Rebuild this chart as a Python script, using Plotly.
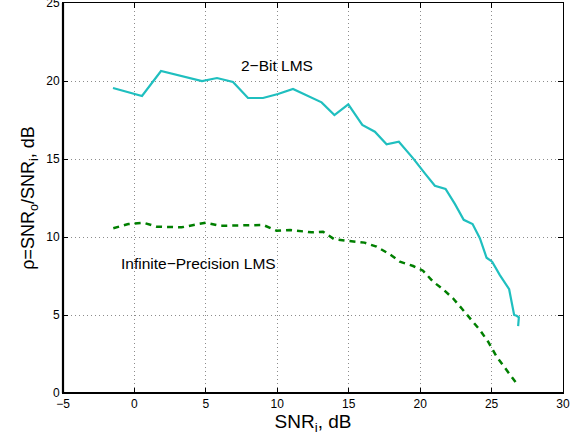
import plotly.graph_objects as go

# 2-Bit LMS curve
bit2_x = [-1.5, 0.53, 1.86, 3.33, 4.73, 5.78, 6.9, 7.95, 9.0, 10.05, 11.1, 13.1, 14.0, 14.97,
          15.95, 16.83, 17.65, 18.51, 19.51, 20.33, 21.03, 21.78, 22.43, 23.05, 23.67, 24.18,
          24.65, 25.04, 25.58, 26.23, 26.44, 26.58, 26.75, 26.91, 26.86]
bit2_y = [19.55, 19.04, 20.64, 20.32, 20.0, 20.19, 19.94, 18.91, 18.91, 19.17, 19.49, 18.63, 17.82, 18.5,
          17.18, 16.75, 15.94, 16.11, 15.04, 14.08, 13.29, 13.08, 12.12, 11.1, 10.83, 9.92,
          8.67, 8.42, 7.56, 6.65, 5.79, 5.0, 4.95, 4.85, 4.29]

# Infinite-Precision LMS curve
inf_x = [-1.48, -0.43, 0.62, 1.56, 3.3, 4.99, 6.0, 9.02, 9.95, 10.9, 12.4, 13.2, 14.0, 14.97,
         16.1, 16.95, 17.88, 18.58, 19.51, 20.2, 20.9, 21.6, 22.3, 22.9, 23.6, 24.18, 24.76,
         25.35, 26.05, 26.8]
inf_y = [10.56, 10.83, 10.92, 10.66, 10.62, 10.92, 10.72, 10.77, 10.4, 10.45, 10.3, 10.34, 9.85, 9.76,
         9.64, 9.38, 8.89, 8.42, 8.14, 7.84, 7.14, 6.65, 6.07, 5.43, 4.68, 4.04, 3.29,
         2.33, 1.47, 0.56]

x_ticks = [-5, 0, 5, 10, 15, 20, 25, 30]
y_ticks = [0, 5, 10, 15, 20, 25]

FONT = "Liberation Sans, Arial, Helvetica"

fig = go.Figure()
fig.add_trace(go.Scatter(x=bit2_x, y=bit2_y, mode="lines",
                         line=dict(color="#1fbfbf", width=2.2), showlegend=False))
fig.add_trace(go.Scatter(x=inf_x, y=inf_y, mode="lines",
                         line=dict(color="#007f00", width=2.5, dash="6px,5px"), showlegend=False))

fig.add_annotation(x=10, y=21.0, text="2\u2212Bit LMS", showarrow=False,
                   font=dict(size=15.5, color="black", family=FONT))
fig.add_annotation(x=4.45, y=8.27, text="Infinite\u2212Precision LMS", showarrow=False,
                   font=dict(size=15.5, color="black", family=FONT))

axis_common = dict(showline=True, linecolor="black", linewidth=1, mirror="ticks",
                   ticks="inside", ticklen=5, tickcolor="black", showgrid=True,
                   gridcolor="#8c8c8c", griddash="1px,3px", gridwidth=1, zeroline=False,
                   automargin=False, ticklabeloverflow="allow",
                   tickfont=dict(size=12, color="black", family=FONT))

fig.update_xaxes(range=[-5, 30], tickvals=x_ticks,
                 ticktext=[str(v).replace("-", "\u2212") for v in x_ticks],
                 title=dict(text="SNR<sub>i</sub>, dB",
                            font=dict(size=19, color="black", family=FONT), standoff=4),
                 **axis_common)
fig.update_yaxes(range=[0, 25], tickvals=y_ticks, ticktext=[str(v) for v in y_ticks],
                 title=dict(text="\u03c1=SNR<sub>o</sub>/SNR<sub>i</sub>, dB",
                            font=dict(size=18, color="black", family=FONT), standoff=6),
                 **axis_common)

# thicker left and bottom axis lines, as in the reference
fig.add_shape(type="line", xref="paper", yref="paper", x0=0, x1=0, y0=0, y1=1,
              line=dict(color="black", width=2.2))
fig.add_shape(type="line", xref="paper", yref="paper", x0=0, x1=1, y0=0, y1=0,
              line=dict(color="black", width=2.2))

fig.update_layout(width=578, height=439, margin=dict(l=63, r=15, t=3, b=46),
                  plot_bgcolor="white", paper_bgcolor="white")

fig.write_html("out.html", config={"displayModeBar": False},
               post_script="document.body.style.margin='0';document.body.style.overflow='hidden';")
